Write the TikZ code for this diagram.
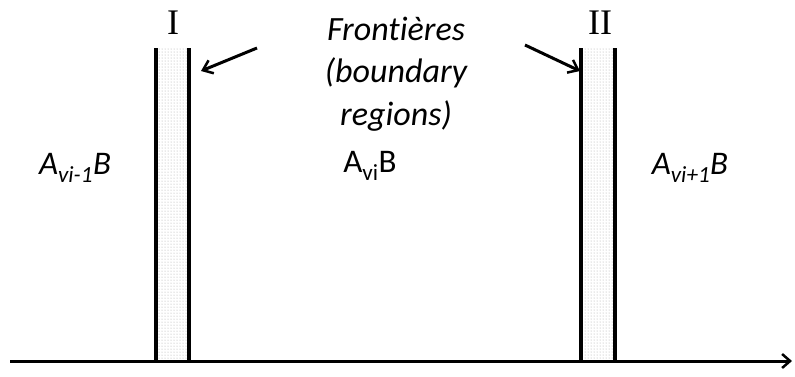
\documentclass[tikz,border=0pt]{standalone}
\usepackage{fontspec}
\setmainfont[Ligatures=NoCommon]{Carlito}
\newfontfamily\romanfont{Liberation Serif}
\usetikzlibrary{arrows.meta,patterns}
\begin{document}
\begin{tikzpicture}[x=1pt,y=-1pt,
  wall/.style={line width=3.5pt},
  band/.style={pattern=dots,pattern color=gray!70},
  pointer/.style={line width=3pt,-{Straight Barb[length=9pt,width=14pt,line width=2.5pt]}},
  lbl/.style={font=\fontsize{33}{38}\selectfont,inner sep=0pt},
  roman/.style={font=\romanfont\fontsize{36}{40}\selectfont,inner sep=0pt}]
\useasboundingbox (0,0) rectangle (795,376);
% axis
\coordinate (a0) at (10,361);
\coordinate (a1) at (792,361);
% bands
\fill[band] (156,48) rectangle (189,361);
\fill[band] (581,48) rectangle (615,361);
\coordinate (t1l) at (156,48); \coordinate (b1l) at (156,361);
\coordinate (t1r) at (189,48); \coordinate (b1r) at (189,361);
\coordinate (t2l) at (581,48); \coordinate (b2l) at (581,361);
\coordinate (t2r) at (615,48); \coordinate (b2r) at (615,361);
\draw[wall] (t1l) -- (b1l);
\draw[wall] (t1r) -- (b1r);
\draw[wall] (t2l) -- (b2l);
\draw[wall] (t2r) -- (b2r);
\draw[line width=3pt,-{Straight Barb[length=8pt,width=14pt,line width=2.5pt]}] (a0) -- (a1);
% labels
\node[roman] (I) at (173,23) {I};
\node[roman] (II) at (600,23) {II};
\node[lbl,align=center,font=\itshape\fontsize{34}{42.5}\selectfont] (front) at (396,74) {Frontières\\(boundary\\regions)};
\node[lbl] (left) at (75,168) {\itshape A\textsubscript{vi-1}B};
\node[lbl] (mid) at (370,166) {A\textsubscript{vi}B};
\node[lbl] (right) at (690,168) {\itshape A\textsubscript{vi+1}B};
% pointers
\coordinate (p1s) at (257,48);
\coordinate (p1e) at (201,71);
\coordinate (p2s) at (525,45);
\coordinate (p2e) at (580,71);
\draw[pointer] (p1s) -- (p1e);
\draw[pointer] (p2s) -- (p2e);
\end{tikzpicture}
\end{document}
